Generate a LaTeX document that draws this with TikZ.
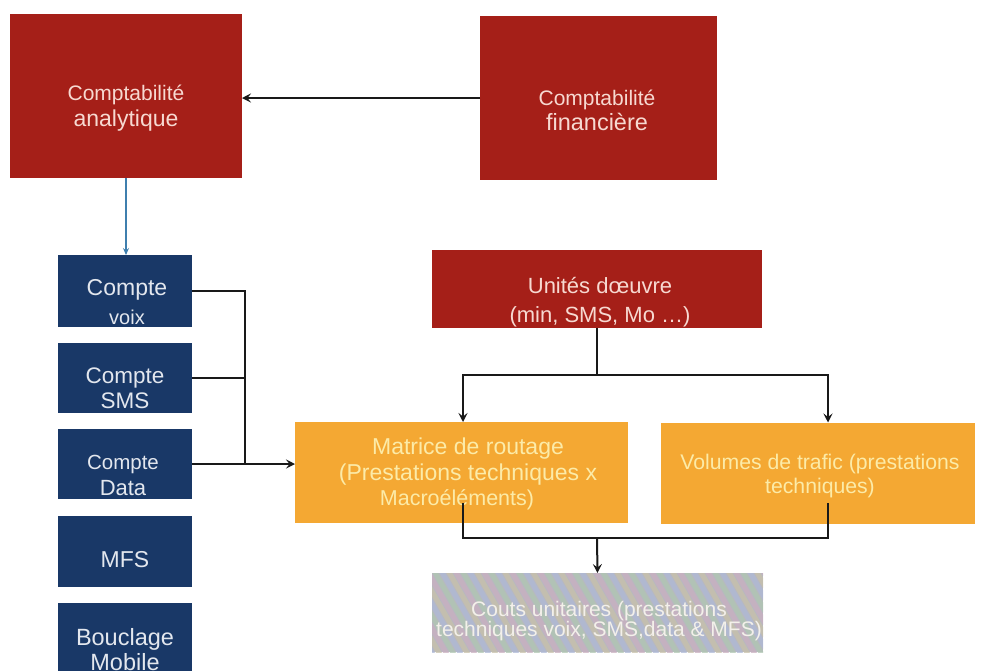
\documentclass[tikz,border=0pt]{standalone}
\usepackage{fontspec}
\setmainfont{Liberation Sans}
\usetikzlibrary{arrows.meta}

\definecolor{boxred}{HTML}{A51F18}
\definecolor{redtxt}{HTML}{F7D9D1}
\definecolor{boxnavy}{HTML}{193867}
\definecolor{navytxt}{HTML}{E3E7EE}
\definecolor{boxorange}{HTML}{F4A833}
\definecolor{orangetxt}{HTML}{FCEBA8}
\definecolor{linkblue}{HTML}{3F7FAE}
\definecolor{coutbase}{HTML}{B8B8C0}
\definecolor{coutA}{HTML}{C9AFC0}
\definecolor{coutB}{HTML}{AFC6B2}
\definecolor{coutC}{HTML}{AEB9D6}
\definecolor{coutD}{HTML}{C7C1AA}
\definecolor{couttxt}{HTML}{F3F0EA}

\newcommand{\fsz}[2]{\fontsize{#1}{#2}\selectfont}

\begin{document}
\begin{tikzpicture}[x=1pt,y=-1pt,
  block/.style={rectangle,inner sep=0pt,outer sep=0pt,draw=none},
  redbox/.style={block,fill=boxred},
  navybox/.style={block,fill=boxnavy,minimum width=134pt},
  orangebox/.style={block,fill=boxorange,minimum height=101pt},
  txt/.style={inner sep=0pt,align=center},
  conn/.style={draw=black!90,line width=2pt},
  arr/.style={conn,-{Stealth[length=9pt,width=9pt,inset=3.5pt]}},
  bluearr/.style={draw=linkblue,line width=1.5pt,-{Stealth[length=7pt,width=6pt,inset=2.5pt]}}]

\useasboundingbox (0,0) rectangle (983,670);
\clip (0,0) rectangle (983,670);
\fill[white] (0,0) rectangle (983,670);

% --- accounting boxes
\node[redbox,minimum width=232pt,minimum height=164pt] (ana) at (126,96) {};
\node[redbox,minimum width=237pt,minimum height=164pt] (fin) at (598.5,98) {};
\node[txt,text=redtxt,font=\fsz{21}{26}] (anat) at (126,108)
  {Comptabilité\\{\fsz{23}{26}analytique}};
\node[txt,text=redtxt,font=\fsz{21}{25}] (fint) at (597,110)
  {Comptabilité\\{\fsz{23.5}{25}financière}};

% --- account column
\node[navybox,minimum height=72pt] (voix) at (125,291) {};
\node[navybox,minimum height=70pt] (sms)  at (125,378) {};
\node[navybox,minimum height=70pt] (data) at (125,464) {};
\node[navybox,minimum height=71pt] (mfs)  at (125,551.5) {};
\node[navybox,minimum height=80pt] (bouc) at (125,643) {};
\node[txt,text=navytxt,font=\fsz{23}{29}] (voixt) at (127,302)
  {Compte\\{\fsz{20}{29}voix}};
\node[txt,text=navytxt,font=\fsz{22.5}{25}] (smst) at (125,388)
  {Compte\\SMS};
\node[txt,text=navytxt,font=\fsz{20.5}{26}] (datat) at (123,475)
  {Compte\\{\fsz{22}{26}Data}};
\node[txt,text=navytxt,font=\fsz{23}{26}] (mfst) at (125,560) {MFS};
\node[txt,text=navytxt,font=\fsz{23.5}{25}] (bouct) at (125,650)
  {Bouclage\\Mobile};

% --- cost drivers
\node[redbox,minimum width=330pt,minimum height=78pt] (uni) at (597,289) {};
\node[txt,text=redtxt,font=\fsz{22}{29}] (unit) at (600,302)
  {Unités dœuvre\\(min, SMS, Mo …)};

\node[orangebox,minimum width=333pt] (mat) at (461.5,472.5) {};
\node[orangebox,minimum width=314pt] (vol) at (818,473) {};
\node[txt,text=orangetxt,font=\fsz{23}{25.5}] (matt) at (468,474)
  {Matrice de routage\\(Prestations techniques x\\\hspace*{-22pt}{\fsz{21.5}{25.5}Macroéléments)}};
\node[txt,text=orangetxt,font=\fsz{21.2}{24}] (volt) at (820,476)
  {Volumes de trafic (prestations\\techniques)};

% --- unit costs, with a pastel streaked fill
\node[block,fill=coutbase,minimum width=331pt,minimum height=79pt] (cout) at (597.5,612.5) {};
\begin{scope}
  \clip (cout.north west) rectangle (cout.south east);
  \foreach \i [count=\k] in {0,7,...,420} {
    \pgfmathtruncatemacro{\c}{mod(\k,4)}
    \ifcase\c \def\sc{coutA}\or \def\sc{coutB}\or \def\sc{coutC}\else \def\sc{coutD}\fi
    \draw[\sc,line width=5pt,opacity=0.75] (372+\i,560) -- (432+\i,665);
  }
\end{scope}
\node[txt,text=couttxt,font=\fsz{21}{18.5}] (coutt) at (599,621)
  {Couts unitaires (prestations\\techniques voix, SMS,data \& MFS)};

% --- connectors
\draw[arr] (fin.west) -- (fin.west -| ana.east);
\draw[bluearr] (ana.south) -- (ana.south |- voix.north);

\coordinate (bus) at (245,0);
\draw[conn] (voix.east) -| (bus |- data.east);
\draw[conn] (sms.east) -- (sms.east -| bus);
\draw[arr] (data.east) -- (data.east -| mat.west);

\coordinate (split) at (597,375);
\coordinate (mx) at (463,0);
\coordinate (vx) at (828,0);
\draw[conn] (uni.south) -- (split);
\draw[arr] (split) -| (mx |- mat.north);
\draw[arr] (split) -| (vx |- vol.north);

\coordinate (mstart) at (463,503);
\coordinate (vstart) at (828,503);
\coordinate (merge) at (597,538);
\draw[conn] (mstart) |- (merge) -| (vstart);
\draw[arr] (merge) -- (cout.north);

\end{tikzpicture}
\end{document}
